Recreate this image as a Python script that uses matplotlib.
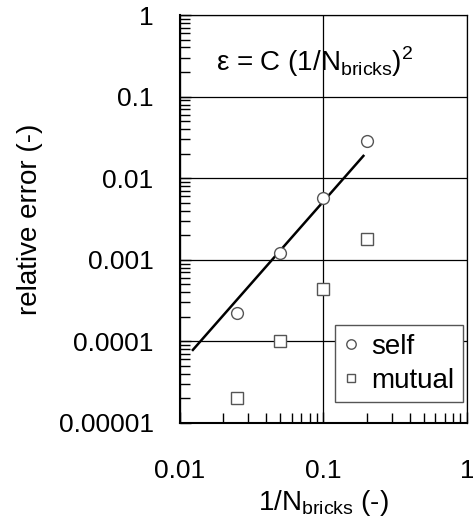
import numpy as np
import matplotlib.pyplot as plt
from matplotlib.ticker import LogLocator, NullFormatter

plt.rcParams['font.family'] = ['Liberation Sans', 'DejaVu Sans']
plt.rcParams['mathtext.fontset'] = 'custom'
plt.rcParams['mathtext.rm'] = 'Liberation Sans'

# data
inv_n = [0.025, 0.05, 0.1, 0.2]
err_self = [0.000224, 0.00122, 0.0057, 0.0284]
err_mutual = [0.00002, 0.0001, 0.00044, 0.00181]

# fitted curve eps = C (1/N)^2
C = 0.52
fit_x = [0.0123, 0.19]

y_ticks = [1e-5, 1e-4, 1e-3, 1e-2, 1e-1, 1]
y_labels = ['0.00001', '0.0001', '0.001', '0.01', '0.1', '1']
x_ticks = [0.01, 0.1, 1]
x_labels = ['0.01', '0.1', '1']

fig = plt.figure(figsize=(4.73, 5.29), dpi=100)
ax = fig.add_axes([0.3805, 0.2004, 0.6065, 0.7712])

fx = np.array(fit_x)
ax.plot(fx, C * fx**2, color='black', lw=1.8, zorder=3)
ax.plot(inv_n, err_self, 'o', ms=8.5, mfc='white', mec='#555555', mew=1.0,
        label='self', zorder=4)
ax.plot(inv_n, err_mutual, 's', ms=8, mfc='white', mec='#555555', mew=1.0,
        label='mutual', zorder=4)

ax.set_xscale('log')
ax.set_yscale('log')
ax.set_xlim(0.01, 1)
ax.set_ylim(1e-5, 1)

ax.set_xticks(x_ticks)
ax.set_xticklabels(x_labels)
ax.set_yticks(y_ticks)
ax.set_yticklabels(y_labels)
ax.xaxis.set_minor_locator(LogLocator(base=10, subs=np.arange(2, 10)))
ax.yaxis.set_minor_locator(LogLocator(base=10, subs=np.arange(2, 10)))
ax.xaxis.set_minor_formatter(NullFormatter())
ax.yaxis.set_minor_formatter(NullFormatter())
ax.tick_params(which='both', direction='in', top=False, right=False,
               labelsize=19)
ax.tick_params(axis='x', which='major', pad=26)
ax.tick_params(axis='y', which='major', pad=19)
ax.tick_params(which='major', length=8, width=1)
ax.tick_params(which='minor', length=7, width=1)

ax.grid(True, which='major', color='black', lw=0.9)
for s in ['left', 'bottom']:
    ax.spines[s].set_linewidth(1.5)
for s in ['top', 'right']:
    ax.spines[s].set_linewidth(0.9)

ax.set_xlabel('1/N$_\\mathregular{bricks}$ (-)', fontsize=20, va='center')
ax.xaxis.set_label_coords(0.5, -0.195)
ax.set_ylabel('relative error (-)', fontsize=20, va='center')
ax.yaxis.set_label_coords(-0.523, 0.5)

ax.text(0.47, 0.885, 'ε = C (1/N$_\\mathregular{bricks}$)$^\\mathregular{2}$',
        transform=ax.transAxes, ha='center', va='center', fontsize=20)

leg = ax.legend(loc='lower right', fontsize=20, frameon=True, fancybox=False,
                edgecolor='#555555', framealpha=1, handlelength=0.55,
                handletextpad=0.45, borderpad=0.3, labelspacing=0.3,
                borderaxespad=0, bbox_to_anchor=(0.986, 0.051),
                markerscale=0.8)
leg.get_frame().set_linewidth(1.0)

fig.savefig('out.png', dpi=100)
